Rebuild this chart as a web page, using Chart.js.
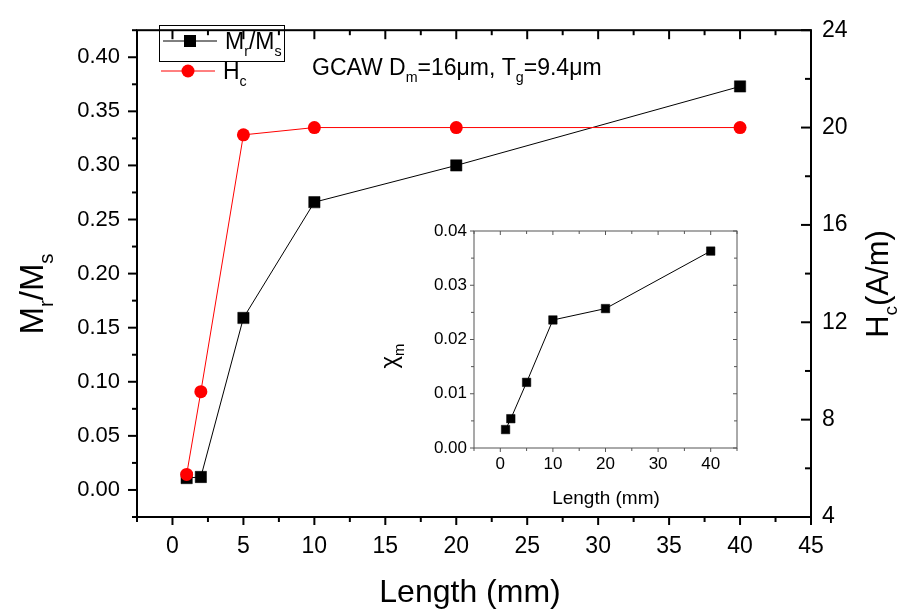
<!DOCTYPE html>
<html>
<head>
<meta charset="utf-8">
<script src="https://cdn.jsdelivr.net/npm/chart.js@4/dist/chart.umd.min.js"></script>
<style>
  body { margin: 0; background: #fff; }
  #wrap { position: relative; width: 906px; height: 613px; }
  #main { position: absolute; left: 0; top: 0; }
  #inset { position: absolute; left: 380px; top: 210px; }
</style>
</head>
<body>
<div id="wrap">
  <canvas id="main" width="906" height="613"></canvas>
  <canvas id="inset" width="380" height="310"></canvas>
</div>
<script>
// data
const lengths = [1, 2, 5, 10, 20, 40]
const mrMs = [0.011, 0.012, 0.159, 0.266, 0.300, 0.373]
const hc = [5.75, 9.15, 19.7, 20.0, 20.0, 20.0]
const chiM = [0.0034, 0.0054, 0.0121, 0.0236, 0.0257, 0.0363]

// tick labels
const xTicks = [0, 5, 10, 15, 20, 25, 30, 35, 40, 45]
const yLeftTicks = [0.00, 0.05, 0.10, 0.15, 0.20, 0.25, 0.30, 0.35, 0.40]
const yRightTicks = [4, 8, 12, 16, 20, 24]
const insetXTicks = [0, 10, 20, 30, 40]
const insetYTicks = [0.00, 0.01, 0.02, 0.03, 0.04]

const FONT = "'Liberation Sans', Arial, sans-serif"
Chart.defaults.font.family = FONT
Chart.defaults.color = '#000'

const pts = (xs, ys) => xs.map((x, i) => ({ x: x, y: ys[i] }))
const mids = (arr, lo, hi) => {
  const step = arr[1] - arr[0]
  const out = []
  for (let v = arr[0] - step / 2; v <= hi + 1e-9; v += step) if (v >= lo - 1e-9) out.push(v)
  return out
}
const setTicks = list => scale => { scale.ticks = list.map(v => ({ value: v })) }

// frame + tick marks drawn round the chart area
const frameTicks = {
  id: 'frameTicks',
  afterDraw(chart, args, o) {
    const ctx = chart.ctx, a = chart.chartArea
    ctx.save()
    ctx.strokeStyle = o.color
    ctx.lineWidth = o.width
    ctx.strokeRect(a.left, a.top, a.right - a.left, a.bottom - a.top)
    o.sides.forEach(s => {
      const sc = chart.scales[s.scale]
      const mark = (vals, len) => vals.forEach(v => {
        const p = sc.getPixelForValue(v)
        ctx.beginPath()
        if (s.side === 'bottom') { ctx.moveTo(p, a.bottom); ctx.lineTo(p, a.bottom + s.dir * len) }
        if (s.side === 'top') { ctx.moveTo(p, a.top); ctx.lineTo(p, a.top - s.dir * len) }
        if (s.side === 'left') { ctx.moveTo(a.left, p); ctx.lineTo(a.left - s.dir * len, p) }
        if (s.side === 'right') { ctx.moveTo(a.right, p); ctx.lineTo(a.right + s.dir * len, p) }
        ctx.stroke()
      })
      mark(s.major, s.majorLen)
      mark(s.minor, s.minorLen)
    })
    ctx.restore()
  }
}

// text with subscripts
function drawRich(ctx, parts, x, y, size, align) {
  const f = sub => (sub ? size * 0.62 : size) + 'px ' + FONT
  let w = 0
  parts.forEach(([t, sub]) => { ctx.font = f(sub); w += ctx.measureText(t).width })
  let cx = align === 'center' ? x - w / 2 : x
  parts.forEach(([t, sub]) => {
    ctx.font = f(sub)
    ctx.fillText(t, cx, y + (sub ? size * 0.3 : 0))
    cx += ctx.measureText(t).width
  })
}

const texts = {
  id: 'texts',
  afterDraw(chart, args, o) {
    const ctx = chart.ctx
    ctx.save()
    ctx.fillStyle = '#000'
    ctx.textBaseline = 'alphabetic'
    ctx.textAlign = 'left'
    o.items.forEach(it => {
      ctx.save()
      ctx.translate(it.x, it.y)
      if (it.rot) ctx.rotate(-Math.PI / 2)
      drawRich(ctx, it.parts, 0, 0, it.size, it.align)
      ctx.restore()
    })
    ctx.restore()
  }
}

// legend with box round the first entry, like the original
const legendBox = {
  id: 'legendBox',
  afterDraw(chart) {
    const ctx = chart.ctx
    ctx.save()
    ctx.strokeStyle = '#000'
    ctx.lineWidth = 1
    ctx.strokeRect(159.5, 25.5, 125, 36)
    ctx.beginPath(); ctx.moveTo(163, 41); ctx.lineTo(217, 41); ctx.stroke()
    ctx.fillStyle = '#000'
    ctx.fillRect(184, 35, 12, 12)
    ctx.strokeStyle = '#ff0000'
    ctx.beginPath(); ctx.moveTo(161, 71); ctx.lineTo(215, 71); ctx.stroke()
    ctx.fillStyle = '#ff0000'
    ctx.beginPath(); ctx.arc(188, 71, 6.5, 0, Math.PI * 2); ctx.fill()
    ctx.restore()
  }
}

new Chart(document.getElementById('main'), {
  type: 'line',
  data: {
    datasets: [
      {
        label: 'Mr/Ms',
        data: pts(lengths, mrMs),
        yAxisID: 'y',
        order: 2,
        borderColor: '#000',
        borderWidth: 1,
        pointStyle: 'rect',
        pointRadius: 8,
        pointBackgroundColor: '#000',
        pointBorderColor: '#000',
        pointBorderWidth: 0.5
      },
      {
        label: 'Hc',
        data: pts(lengths, hc),
        yAxisID: 'y2',
        order: 1,
        borderColor: '#ff0000',
        borderWidth: 1,
        pointStyle: 'circle',
        pointRadius: 6.5,
        pointBackgroundColor: '#ff0000',
        pointBorderColor: '#ff0000',
        pointBorderWidth: 0
      }
    ]
  },
  options: {
    responsive: false,
    animation: false,
    devicePixelRatio: 1,
    layout: { padding: { top: 23, left: 0, right: 0, bottom: 0 } },
    plugins: {
      legend: { display: false },
      tooltip: { enabled: false },
      frameTicks: {
        color: '#000', width: 2,
        sides: [
          { scale: 'x', side: 'bottom', dir: 1, major: xTicks, minor: mids(xTicks, -2.5, 45), majorLen: 8, minorLen: 5 },
          { scale: 'x', side: 'top', dir: -1, major: xTicks, minor: mids(xTicks, -2.5, 45), majorLen: 9, minorLen: 5 },
          { scale: 'y', side: 'left', dir: 1, major: yLeftTicks, minor: mids(yLeftTicks, -0.025, 0.425), majorLen: 9, minorLen: 5 },
          { scale: 'y2', side: 'right', dir: -1, major: yRightTicks, minor: mids(yRightTicks, 4, 24), majorLen: 10, minorLen: 6 }
        ]
      },
      texts: {
        items: [
          { x: 470, y: 602, size: 32, align: 'center', parts: [['Length (mm)']] },
          { x: 43, y: 294, size: 33, align: 'center', rot: true, parts: [['M'], ['r', 1], ['/M'], ['s', 1]] },
          { x: 888, y: 284, size: 31, align: 'center', rot: true, parts: [['H'], ['c', 1], ['(A/m)']] },
          { x: 312, y: 75, size: 23, parts: [['GCAW D'], ['m', 1], ['=16\u03bcm, T'], ['g', 1], ['=9.4\u03bcm']] },
          { x: 225, y: 49, size: 23, parts: [['M'], ['r', 1], ['/M'], ['s', 1]] },
          { x: 223, y: 79, size: 23, parts: [['H'], ['c', 1]] }
        ]
      }
    },
    scales: {
      x: {
        type: 'linear', min: -2.5, max: 45,
        afterBuildTicks: setTicks(xTicks),
        afterFit: s => { s.height = 96 },
        grid: { display: false, drawTicks: false },
        border: { display: false },
        ticks: { font: { size: 23 }, padding: 16, maxRotation: 0, autoSkip: false }
      },
      y: {
        type: 'linear', position: 'left', min: -0.025, max: 0.425,
        afterBuildTicks: setTicks(yLeftTicks),
        afterFit: s => { s.width = 137 },
        grid: { display: false, drawTicks: false },
        border: { display: false },
        ticks: { font: { size: 22 }, padding: 17, callback: v => v.toFixed(2) }
      },
      y2: {
        type: 'linear', position: 'right', min: 4, max: 24,
        afterBuildTicks: setTicks(yRightTicks),
        afterFit: s => { s.width = 95 },
        grid: { display: false, drawTicks: false },
        border: { display: false },
        ticks: { font: { size: 23 }, padding: 11 }
      }
    }
  },
  plugins: [frameTicks, texts, legendBox]
})

// inset: chi_m vs length
new Chart(document.getElementById('inset'), {
  type: 'line',
  data: {
    datasets: [
      {
        label: 'chi_m',
        data: pts(lengths, chiM),
        borderColor: '#000',
        borderWidth: 1,
        pointStyle: 'rect',
        pointRadius: 6,
        pointBackgroundColor: '#000',
        pointBorderColor: '#000',
        pointBorderWidth: 0.5
      }
    ]
  },
  options: {
    responsive: false,
    animation: false,
    devicePixelRatio: 1,
    layout: { padding: { top: 21, left: 0, right: 23, bottom: 0 } },
    plugins: {
      legend: { display: false },
      tooltip: { enabled: false },
      frameTicks: {
        color: '#555', width: 1,
        sides: [
          { scale: 'x', side: 'bottom', dir: 1, major: insetXTicks, minor: mids(insetXTicks, -5, 45), majorLen: 4, minorLen: 3 },
          { scale: 'x', side: 'top', dir: -1, major: insetXTicks, minor: mids(insetXTicks, -5, 45), majorLen: 4, minorLen: 3 },
          { scale: 'y', side: 'left', dir: 1, major: insetYTicks, minor: mids(insetYTicks, 0, 0.04), majorLen: 4, minorLen: 3 },
          { scale: 'y', side: 'right', dir: -1, major: insetYTicks, minor: mids(insetYTicks, 0, 0.04), majorLen: 4, minorLen: 3 }
        ]
      },
      texts: {
        items: [
          { x: 226, y: 294, size: 19, align: 'center', parts: [['Length (mm)']] },
          { x: 17, y: 146, size: 24, align: 'center', rot: true, parts: [['\u03c7'], ['m', 1]] }
        ]
      }
    },
    scales: {
      x: {
        type: 'linear', min: -5, max: 45,
        afterBuildTicks: setTicks(insetXTicks),
        afterFit: s => { s.height = 72 },
        grid: { display: false, drawTicks: false },
        border: { display: false },
        ticks: { font: { size: 17 }, padding: 6, maxRotation: 0, autoSkip: false }
      },
      y: {
        type: 'linear', min: 0, max: 0.04,
        afterBuildTicks: setTicks(insetYTicks),
        afterFit: s => { s.width = 94 },
        grid: { display: false, drawTicks: false },
        border: { display: false },
        ticks: { font: { size: 17 }, padding: 7, callback: v => v.toFixed(2) }
      }
    }
  },
  plugins: [frameTicks, texts]
})
</script>
</body>
</html>
